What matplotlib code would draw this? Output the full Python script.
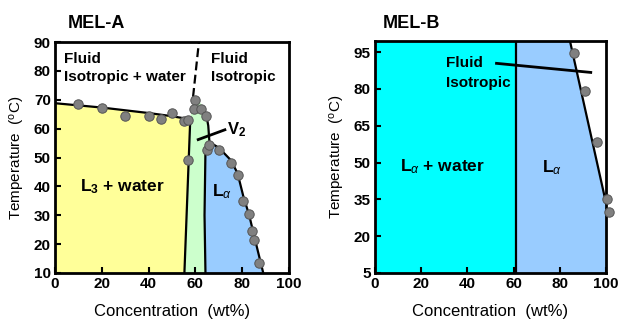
import matplotlib
matplotlib.use('Agg')
import matplotlib.pyplot as plt

plt.rcParams['font.family'] = ['Liberation Sans', 'DejaVu Sans']
plt.rcParams['mathtext.fontset'] = 'custom'
plt.rcParams['mathtext.rm'] = 'Liberation Sans'
plt.rcParams['mathtext.it'] = 'Liberation Sans:italic'
plt.rcParams['mathtext.bf'] = 'Liberation Sans:bold'

# ---- MEL-A data ----
a_pts_x = [10, 20, 30, 40, 45.5, 50, 55, 57, 57, 60, 59.5, 62.5, 64.5, 65, 66, 70, 75, 78, 80.5, 83, 84.3, 85.2, 87]
a_pts_y = [68.5, 67, 64.3, 64.5, 63.2, 65.3, 62.7, 62.9, 49.2, 70, 66.8, 66.8, 64.3, 52.6, 54.3, 52.7, 48.1, 43.9, 35.1, 30.4, 24.7, 21.5, 13.6]

# L3 + water (yellow) region boundary
l3_top_x = [0, 20, 40, 50, 57.8]
l3_top_y = [68.8, 67.3, 65.4, 64.3, 63.2]
l3_side_x = [57.8, 55.3]
l3_side_y = [63.2, 10]

# V2 (green) region outline
v2_x = [55.3, 57.8, 58.3, 59.0, 60.2, 61.5, 63.0, 64.4, 65.5, 66.0, 64.3, 63.9, 64.3]
v2_y = [10, 63.2, 66.5, 68.8, 69.6, 69.4, 68.2, 65.5, 61.0, 55.3, 52.5, 30, 10]
v2_right_x = [64.6, 65.5, 66.0]
v2_right_y = [65.0, 61.0, 55.3]

# L-alpha (blue) region boundary
la_left_x = [64.3, 63.9, 64.3, 65.0]
la_left_y = [10, 30, 52.5, 54.5]
la_top_x = [65.0, 66.0, 70, 75, 78, 80.5, 83, 85.2, 89]
la_top_y = [54.5, 55.3, 53.4, 49.2, 44.6, 36.5, 30.0, 22.5, 10]

dash_x = [59.0, 61.5]
dash_y = [71.0, 90]

# ---- MEL-B data ----
b_pts_x = [86, 91, 96, 100.3, 101.5]
b_pts_y = [94.5, 79.2, 58.5, 35.0, 30.0]
b_split = 61
b_line_x = [84.4, 99.3]
b_line_y = [99.5, 36.5]

fig = plt.figure(figsize=(6.24, 3.23), dpi=100)
ax1 = fig.add_axes([55 / 624, 50 / 323, 234 / 624, 231 / 323])
ax2 = fig.add_axes([375 / 624, 50 / 323, 231 / 624, 232 / 323])

yellow = '#FFFF99'
green = '#CCFFCC'
blue = '#99CCFF'
cyan = '#00FFFF'
lw = 1.6
marker_kw = dict(s=46, color='#808080', edgecolors='#555555', linewidths=0.7, zorder=5, clip_on=False)

# ----- MEL-A -----
ax1.fill(l3_top_x + l3_side_x + [0], l3_top_y + l3_side_y + [10], color=yellow, lw=0)
ax1.fill(v2_x, v2_y, color=green, lw=0)
ax1.fill(la_left_x + la_top_x, la_left_y + la_top_y, color=blue, lw=0)
ax1.plot(l3_top_x, l3_top_y, color='black', lw=lw)
ax1.plot(l3_side_x, l3_side_y, color='black', lw=lw)
ax1.plot(v2_right_x, v2_right_y, color='black', lw=lw)
ax1.plot(la_left_x, la_left_y, color='black', lw=lw)
ax1.plot(la_top_x, la_top_y, color='black', lw=lw)
ax1.plot(dash_x, dash_y, color='black', lw=lw, ls=(0, (4, 2)))
ax1.plot([61.2, 72.6], [56.2, 59.6], color='black', lw=lw + 0.4)
ax1.scatter(a_pts_x, a_pts_y, **marker_kw)

ax1.set_xlim(0, 100)
ax1.set_ylim(10, 90)
ax1.set_xticks([0, 20, 40, 60, 80, 100])
ax1.set_yticks([10, 20, 30, 40, 50, 60, 70, 80, 90])

ax1.text(4, 84.2, 'Fluid', fontsize=11, fontweight='bold', va='center')
ax1.text(4, 77.8, 'Isotropic + water', fontsize=11, fontweight='bold', va='center')
ax1.text(66.7, 84.2, 'Fluid', fontsize=11, fontweight='bold', va='center')
ax1.text(66.7, 77.8, 'Isotropic', fontsize=11, fontweight='bold', va='center')
ax1.text(10.5, 40, r'L$_\mathbf{3}$ + water', fontsize=12.5, fontweight='bold', va='center')
ax1.text(67, 38, r'L$_\alpha$', fontsize=12.5, fontweight='bold', va='center')
ax1.text(73.5, 59.5, r'V$_\mathbf{2}$', fontsize=12, fontweight='bold', va='center')
ax1.text(68 / 624, 1 - 23.5 / 323, 'MEL-A', transform=fig.transFigure,
         fontsize=13, fontweight='bold', va='center')

# ----- MEL-B -----
ax2.axvspan(0, b_split, color=cyan, lw=0)
ax2.fill([b_split, b_split] + b_line_x + [100, 100],
         [5, 99.5] + b_line_y + [b_line_y[-1], 5], color=blue, lw=0)
ax2.axvline(b_split, color='black', lw=lw)
ax2.plot(b_line_x, b_line_y, color='black', lw=lw)
ax2.plot([52.6, 93.4], [90.4, 86.7], color='black', lw=lw + 0.4)
ax2.scatter(b_pts_x, b_pts_y, **marker_kw)

ax2.set_xlim(0, 100)
ax2.set_ylim(5, 99.5)
ax2.set_xticks([0, 20, 40, 60, 80, 100])
ax2.set_yticks([5, 20, 35, 50, 65, 80, 95])

ax2.text(30.7, 90.4, 'Fluid', fontsize=11, fontweight='bold', va='center')
ax2.text(30.7, 82.5, 'Isotropic', fontsize=11, fontweight='bold', va='center')
ax2.text(10.8, 48.3, r'L$_\alpha$ + water', fontsize=12.5, fontweight='bold', va='center')
ax2.text(72.5, 48, r'L$_\alpha$', fontsize=12.5, fontweight='bold', va='center')
ax2.text(383 / 624, 1 - 23.5 / 323, 'MEL-B', transform=fig.transFigure,
         fontsize=13, fontweight='bold', va='center')

for ax in (ax1, ax2):
    for sp in ax.spines.values():
        sp.set_linewidth(2)
    ax.tick_params(direction='in', length=4, width=1.5, labelsize=11, pad=3)
    for lab in ax.get_xticklabels() + ax.get_yticklabels():
        lab.set_fontweight('bold')
    ax.set_xlabel('Concentration  (wt%)', fontsize=12, labelpad=9)
    ax.set_ylabel(r'Temperature  ($^\mathrm{o}$C)', fontsize=11, labelpad=5)

fig.savefig('out.png', dpi=100)
